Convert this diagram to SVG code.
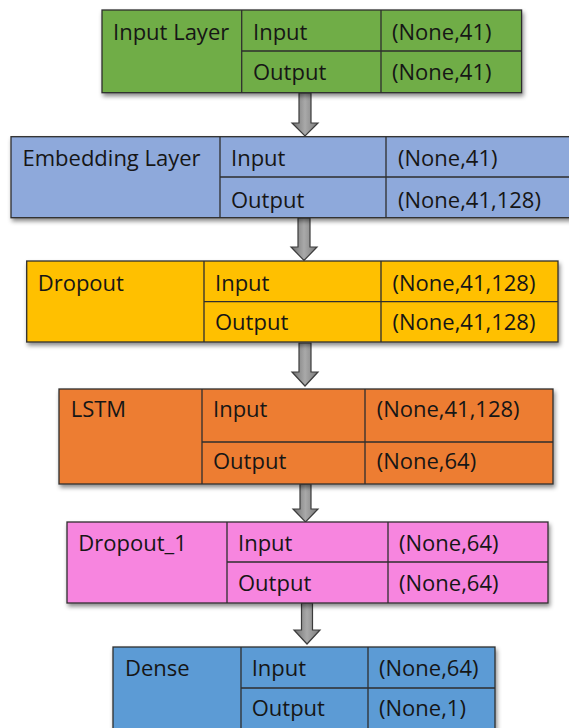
<svg xmlns="http://www.w3.org/2000/svg" width="569" height="728" viewBox="0 0 569 728">
  <style>
    .box { stroke: #2e2e2e; stroke-width: 1.3; }
    .rule { stroke: #2e2e2e; stroke-width: 1.3; fill: none; }
    .txt { font-family: "Open Sans", "Noto Sans", "Liberation Sans", sans-serif; font-size: 22px; fill: #161616; }
    .arrow { fill: url(#arrowFill); stroke: #3c3c3c; stroke-width: 1.2; stroke-linejoin: miter; }
  </style>
  <defs>
    <filter id="shadow" x="-5%" y="-10%" width="112%" height="130%">
      <feDropShadow dx="1.5" dy="3" stdDeviation="2" flood-color="#000" flood-opacity="0.45"/>
    </filter>
    <linearGradient id="arrowFill" x1="0" y1="0" x2="1" y2="0">
      <stop offset="0" stop-color="#6f6f6f"/>
      <stop offset="0.5" stop-color="#a9a9a9"/>
      <stop offset="1" stop-color="#7a7a7a"/>
    </linearGradient>
  </defs>

  <rect width="569" height="728" fill="#ffffff"/>

  <!-- connectors: block arrows between layers -->
  <g id="connectors">
    <path class="arrow" d="M299 93 H311 V123 H318 L305 136 L292 123 H299 Z"/>
    <path class="arrow" d="M298 218 H310 V247 H317 L304 260.5 L291 247 H298 Z"/>
    <path class="arrow" d="M299 343 H311 V372 H318 L305 386 L292 372 H299 Z"/>
    <path class="arrow" d="M300 484 H311 V509 H318 L305.5 522 L293 509 H300 Z"/>
    <path class="arrow" d="M301.5 603 H312.5 V630 H320 L307 644 L294 630 H301.5 Z"/>
  </g>

  <!-- Input Layer -->
  <g id="input_layer">
    <rect class="box" x="102" y="10" width="419.6" height="82.7" fill="#70AD47" filter="url(#shadow)"/>
    <path class="rule" d="M241.7 10 V92.7 M381 10 V92.7 M241.7 51 H521.6"/>
    <text class="txt" x="113" y="39.5">Input Layer</text>
    <text class="txt" x="253" y="39.5">Input</text>
    <text class="txt" x="392" y="39.5">(None,41)</text>
    <text class="txt" x="253" y="80">Output</text>
    <text class="txt" x="392" y="80">(None,41)</text>
  </g>

  <!-- Embedding Layer -->
  <g id="embedding_layer">
    <rect class="box" x="11" y="136.7" width="564" height="81" fill="#8EA9DB" filter="url(#shadow)"/>
    <path class="rule" d="M220 136.7 V217.7 M386 136.7 V217.7 M220 177 H575"/>
    <text class="txt" x="22.5" y="166">Embedding Layer</text>
    <text class="txt" x="231" y="166">Input</text>
    <text class="txt" x="398" y="166">(None,41)</text>
    <text class="txt" x="231" y="208">Output</text>
    <text class="txt" x="398" y="208">(None,41,128)</text>
  </g>

  <!-- Dropout -->
  <g id="dropout">
    <rect class="box" x="26.7" y="261" width="531.3" height="81" fill="#FFC000" filter="url(#shadow)"/>
    <path class="rule" d="M204 261 V342 M381 261 V342 M204 301.7 H558"/>
    <text class="txt" x="37.7" y="290.7">Dropout</text>
    <text class="txt" x="215" y="290.7">Input</text>
    <text class="txt" x="392.5" y="290.7">(None,41,128)</text>
    <text class="txt" x="215" y="330">Output</text>
    <text class="txt" x="392.5" y="330">(None,41,128)</text>
  </g>

  <!-- LSTM -->
  <g id="lstm">
    <rect class="box" x="59" y="389" width="494" height="95" fill="#ED7D31" filter="url(#shadow)"/>
    <path class="rule" d="M202 389 V484 M365 389 V484 M202 442 H553"/>
    <text class="txt" x="70.7" y="417">LSTM</text>
    <text class="txt" x="213" y="417">Input</text>
    <text class="txt" x="376.7" y="417">(None,41,128)</text>
    <text class="txt" x="213" y="469">Output</text>
    <text class="txt" x="376.7" y="469">(None,64)</text>
  </g>

  <!-- Dropout_1 -->
  <g id="dropout_1">
    <rect class="box" x="67" y="522" width="481" height="81" fill="#F785DF" filter="url(#shadow)"/>
    <path class="rule" d="M227 522 V603 M388 522 V603 M227 562 H548"/>
    <text class="txt" x="78.3" y="551">Dropout_1</text>
    <text class="txt" x="238" y="551">Input</text>
    <text class="txt" x="399" y="551">(None,64)</text>
    <text class="txt" x="238" y="591">Output</text>
    <text class="txt" x="399" y="591">(None,64)</text>
  </g>

  <!-- Dense -->
  <g id="dense">
    <rect class="box" x="113" y="647" width="382" height="83" fill="#5B9BD5" filter="url(#shadow)"/>
    <path class="rule" d="M241 647 V730 M368 647 V730 M241 688 H495"/>
    <text class="txt" x="125" y="676">Dense</text>
    <text class="txt" x="251.7" y="676">Input</text>
    <text class="txt" x="379" y="676">(None,64)</text>
    <text class="txt" x="251.7" y="716">Output</text>
    <text class="txt" x="379" y="716">(None,1)</text>
  </g>
</svg>
